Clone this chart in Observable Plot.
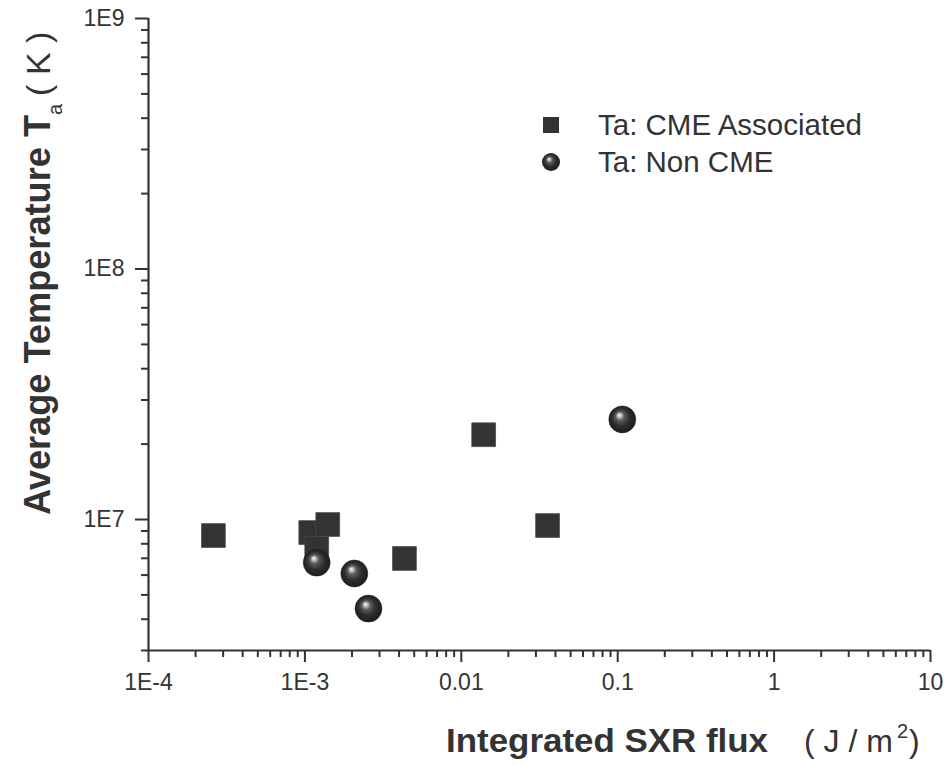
<!DOCTYPE html>
<html><head><meta charset="utf-8">
<script src="https://cdn.jsdelivr.net/npm/d3@7"></script>
<script src="https://cdn.jsdelivr.net/npm/@observablehq/plot@0.6"></script>
<style>
body{margin:0;background:#fff}
#chart{position:relative;width:944px;height:765px}
</style>
</head><body><div id="chart"></div>
<script>
// ---- data ----
const cmeFlux    = [2.6e-4, 1.09e-3, 1.40e-3, 1.19e-3, 4.33e-3, 0.0139, 0.0356];
const cmeTemp    = [8.63e6, 8.87e6, 9.55e6, 7.66e6, 6.99e6, 2.18e7, 9.46e6];
const nonCmeFlux = [1.19e-3, 2.07e-3, 2.55e-3, 0.107];
const nonCmeTemp = [6.73e6, 6.09e6, 4.41e6, 2.51e7];

const xTickValues = [1e-4, 1e-3, 1e-2, 1e-1, 1, 10];
const xTickLabels = ["1E-4", "1E-3", "0.01", "0.1", "1", "10"];
const yTickValues = [1e7, 1e8, 1e9];
const yTickLabels = ["1E7", "1E8", "1E9"];
const xDomain = [1e-4, 10];
const yDomain = [3e6, 1e9];

const legendLabels = ["Ta: CME Associated", "Ta: Non CME"];
const xTitleBold = "Integrated SXR flux";
const xTitleUnit = "( J / m";
const yTitleBold = "Average Temperature T";
const yTitleSub = "a";
const yTitleUnit = "( K )";

// ---- tables ----
const cme = cmeFlux.map((f, i) => ({flux: f, temp: cmeTemp[i]}));
const nonCme = nonCmeFlux.map((f, i) => ({flux: f, temp: nonCmeTemp[i]}));
const isMajor = d => Math.abs(Math.log10(d) - Math.round(Math.log10(d))) < 1e-6;
const xMinor = d3.scaleLog().domain(xDomain).ticks().filter(d => !isMajor(d));
const yMinor = d3.scaleLog().domain(yDomain).ticks().filter(d => !isMajor(d));

const ink = "#333";
const font = "'Liberation Sans', Arial, sans-serif";

const svg = Plot.plot({
  width: 944,
  height: 765,
  marginLeft: 148,
  marginRight: 14,
  marginTop: 18,
  marginBottom: 115,
  style: {fontFamily: font, fontSize: "23px", color: ink, background: "#fff"},
  x: {type: "log", domain: xDomain, label: null},
  y: {type: "log", domain: yDomain, label: null},
  marks: [
    Plot.axisX(xMinor, {anchor: "bottom", tickSize: 7, strokeWidth: 2, tickFormat: () => "", label: null}),
    Plot.axisX(xTickValues, {anchor: "bottom", tickSize: 12, tickPadding: 11, strokeWidth: 2, fontSize: 23,
      tickFormat: d => xTickLabels[xTickValues.indexOf(d)], label: null}),
    Plot.axisY(yMinor, {anchor: "left", tickSize: 7, strokeWidth: 2, tickFormat: () => "", label: null}),
    Plot.axisY(yTickValues, {anchor: "left", tickSize: 13, tickPadding: 11, strokeWidth: 2, fontSize: 23,
      tickFormat: d => yTickLabels[yTickValues.indexOf(d)], label: null}),
    Plot.ruleX([xDomain[0]], {stroke: ink, strokeWidth: 2.2}),
    Plot.ruleY([yDomain[0]], {stroke: ink, strokeWidth: 2.2}),
    Plot.dot(cme, {x: "flux", y: "temp", symbol: "square", r: 13.4, fill: ink, stroke: "#4a4a4a", strokeWidth: 0.8}),
    Plot.dot(nonCme, {x: "flux", y: "temp", symbol: "circle", r: 13.5, fill: "url(#sphere)", stroke: "#222", strokeWidth: 0.5})
  ]
});

// enforce tick-label size
const s = d3.select(svg);
s.selectAll('g[aria-label$="tick label"]').style("font-size", "23px")
  .selectAll("text").style("font-size", "23px");

// sphere gradient
const defs = s.insert("defs", ":first-child");
const g = defs.append("radialGradient").attr("id", "sphere")
  .attr("cx", "50%").attr("cy", "50%").attr("r", "55%").attr("fx", "38%").attr("fy", "33%");
[["0%", "#ffffff"], ["12%", "#c4c4c4"], ["30%", "#5a5a5a"], ["60%", "#2c2c2c"], ["100%", "#1a1a1a"]]
  .forEach(([o, c]) => g.append("stop").attr("offset", o).attr("stop-color", c));

// axis titles
const xt = s.append("text").attr("font-family", font).attr("fill", ink).attr("text-anchor", "start")
  .attr("x", 446).attr("y", 752);
xt.append("tspan").attr("font-weight", "bold").attr("font-size", 34)
  .attr("textLength", 322).attr("lengthAdjust", "spacingAndGlyphs").text(xTitleBold);
xt.append("tspan").attr("x", 804).attr("font-size", 32).text(xTitleUnit);
xt.append("tspan").attr("font-size", 20).attr("dx", 4).attr("dy", -14).text("2");
xt.append("tspan").attr("font-size", 32).attr("dx", 1).attr("dy", 14).text(")");

const yt = s.append("text").attr("font-family", font).attr("fill", ink).attr("text-anchor", "start")
  .attr("transform", "rotate(-90)").attr("x", -515).attr("y", 50);
yt.append("tspan").attr("font-weight", "bold").attr("font-size", 36)
  .attr("textLength", 400).attr("lengthAdjust", "spacingAndGlyphs").text(yTitleBold);
yt.append("tspan").attr("font-size", 20).attr("dy", 12).text(yTitleSub);
yt.append("tspan").attr("font-size", 34).attr("dx", 8).attr("dy", -12).text(yTitleUnit);

// legend
const leg = s.append("g").attr("font-family", font).attr("font-size", 29.5).attr("fill", ink).attr("text-anchor", "start");
legendLabels.forEach((lab, i) => {
  const cy = 125 + i * 37;
  if (i === 0) {
    leg.append("rect").attr("x", 543).attr("y", cy - 8).attr("width", 16).attr("height", 16).attr("fill", ink);
  } else {
    leg.append("circle").attr("cx", 551).attr("cy", cy).attr("r", 9).attr("fill", "url(#sphere)");
  }
  leg.append("text").attr("x", 598).attr("y", cy + 10).text(lab);
});

document.getElementById("chart").append(svg);
</script>
</body></html>
